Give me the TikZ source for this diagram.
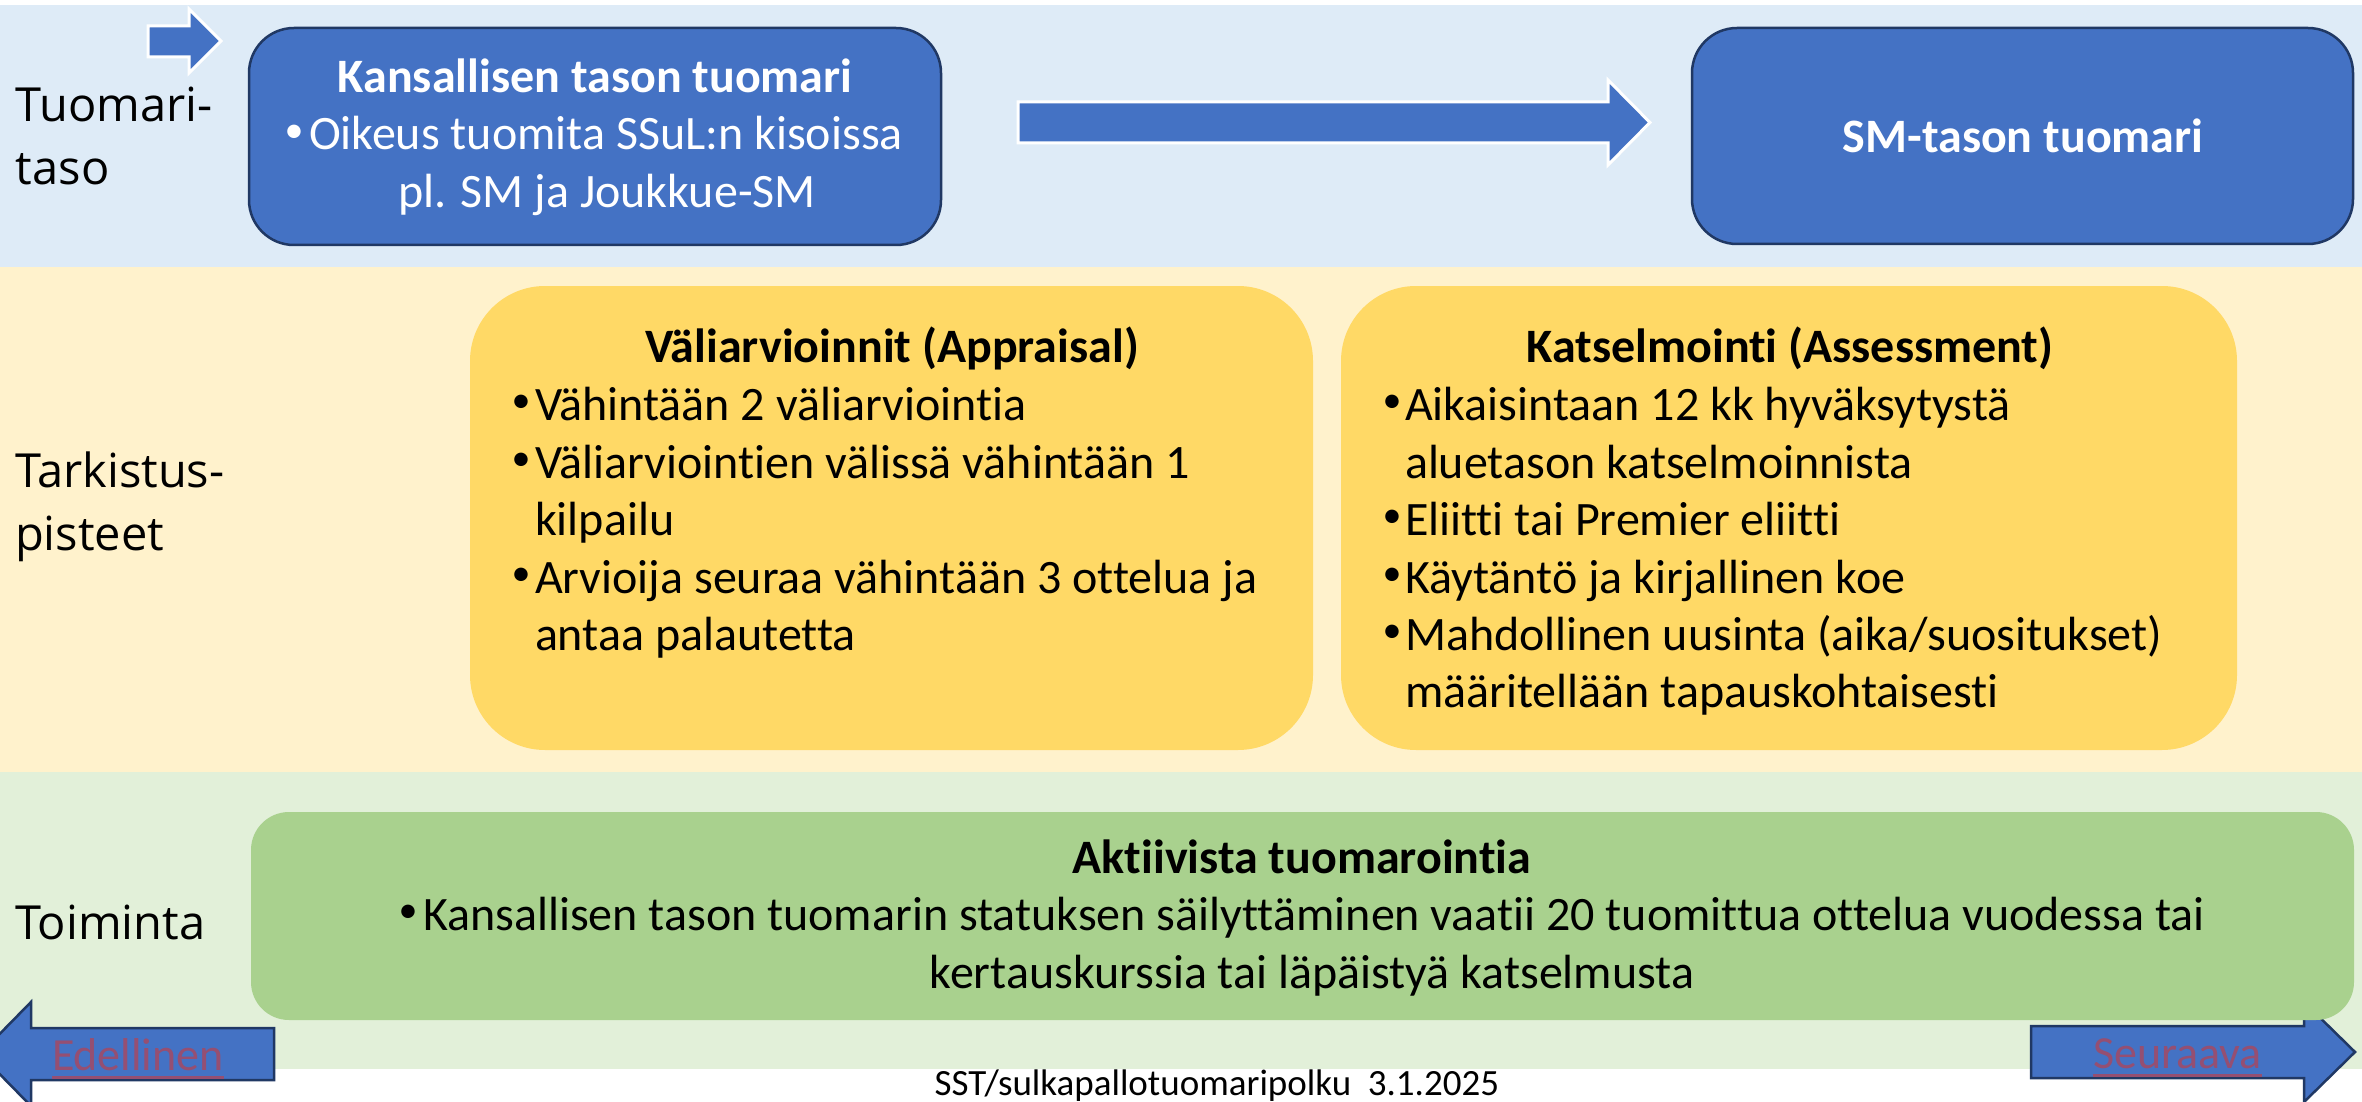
\documentclass[tikz,border=0pt]{standalone}
\usepackage{fontspec}
\setmainfont{Carlito}[Ligatures={NoCommon}]
\newfontfamily\segoe{Open Sans}
\definecolor{bandblue}{HTML}{DEEBF7}
\definecolor{bandyellow}{HTML}{FFF2CC}
\definecolor{bandgreen}{HTML}{E2F0D9}
\definecolor{boxblue}{HTML}{4472C4}
\definecolor{boxline}{HTML}{203864}
\definecolor{boxyellow}{HTML}{FFD966}
\definecolor{boxgreen}{HTML}{A9D18E}
\definecolor{linkcol}{HTML}{954F72}
\begin{document}
\begin{tikzpicture}[x=1pt,y=-1pt,
  txt/.style={inner sep=0pt, outer sep=0pt, font=\fontsize{48}{58}\selectfont},
  bodyw/.style={txt, anchor=base west},
  bodyc/.style={txt, anchor=base},
  bul/.style={inner sep=0pt, outer sep=0pt, anchor=center, font=\fontsize{38}{40}\selectfont},
  ttl/.style={inner sep=0pt, outer sep=0pt, anchor=base, font=\fontsize{48}{58}\selectfont\bfseries},
  wtxt/.style={text=white},
  side/.style={inner sep=0pt, outer sep=0pt, anchor=base west, font=\segoe\fontsize{47}{60}\selectfont},
  navtxt/.style={inner sep=0pt, outer sep=0pt, anchor=base west, text=linkcol, font=\fontsize{46}{56}\selectfont},
  bluebox/.style={draw=boxline, line width=2.5pt, fill=boxblue, rounded corners=45pt, inner sep=0pt},
  yelbox/.style={fill=boxyellow, rounded corners=75pt, inner sep=0pt},
  grnbox/.style={fill=boxgreen, rounded corners=38pt, inner sep=0pt},
  whitearrow/.style={fill=boxblue, draw=white, line width=3pt, line join=miter},
  navarrow/.style={fill=boxblue, draw=boxline, line width=2.5pt, line join=miter},
]
\useasboundingbox (0,0) rectangle (2362,1102);
\clip (0,0) rectangle (2362,1102);
\fill[white] (0,0) rectangle (2362,1102);
% bands
\fill[bandblue] (0,5) rectangle (2362,267);
\fill[bandyellow] (0,267) rectangle (2362,772);
\fill[bandgreen] (0,772) rectangle (2362,1069);
% navigation arrows (under green box)
\draw[navarrow] (274,1028) -- (31,1028) -- (31,1002) -- (-20,1054) -- (31,1106) -- (31,1080) -- (274,1080) -- cycle;
\draw[navarrow] (2031,1026) -- (2304,1026) -- (2304,1002) -- (2355,1052) -- (2304,1102) -- (2304,1078) -- (2031,1078) -- cycle;
% boxes
\node[bluebox, minimum width=692pt, minimum height=217pt] (kans) at (595,136.5) {};
\node[bluebox, minimum width=661pt, minimum height=216pt] (smt) at (2022.5,136) {};
\node[yelbox, minimum width=843pt, minimum height=464pt] (vali) at (891.5,518) {};
\node[yelbox, minimum width=896pt, minimum height=464pt] (kats) at (1789,518) {};
\node[grnbox, minimum width=2103pt, minimum height=208pt] (akt) at (1302.5,916) {};
% top arrows
\draw[whitearrow] (148,26) -- (189,26) -- (189,9) -- (221,41) -- (189,73) -- (189,57) -- (148,57) -- cycle;
\draw[whitearrow] (1018,102) -- (1608,102) -- (1608,80) -- (1650,122.5) -- (1608,165) -- (1608,143) -- (1018,143) -- cycle;
% side labels
\node[side] (s1) at (16,122) {Tuomari-};
\node[side] (s2) at (16,185) {taso};
\node[side] (s3) at (15,487) {Tarkistus-};
\node[side] (s4) at (15,550) {pisteet};
\node[side] (s5) at (15,939) {Toiminta};
% blue box 1 text
\node[ttl, wtxt] (k0) at (595,93) {Kansallisen tason tuomari};
\node[bul, wtxt] (kb) at (294,134) {•};
\node[bodyw, wtxt] (k1) at (309,150) {Oikeus tuomita SSuL:n kisoissa};
\node[bodyc, wtxt] (k2) at (607,208) {pl. SM ja Joukkue-SM};
% blue box 2 text
\node[ttl, wtxt] (m0) at (2023,153) {SM-tason tuomari};
% yellow box 1
\node[ttl] (v0) at (892,362) {Väliarvioinnit (Appraisal)};
\node[bul] (vb1) at (521,404) {•};
\node[bodyw] (v1) at (535,420) {Vähintään 2 väliarviointia};
\node[bul] (vb2) at (521,462) {•};
\node[bodyw] (v2) at (535,478) {Väliarviointien välissä vähintään 1};
\node[bodyw] (v3) at (535,535) {kilpailu};
\node[bul] (vb4) at (521,577) {•};
\node[bodyw] (v4) at (535,593) {Arvioija seuraa vähintään 3 ottelua ja};
\node[bodyw] (v5) at (535,650) {antaa palautetta};
% yellow box 2
\node[ttl] (a0) at (1790,362) {Katselmointi (Assessment)};
\node[bul] (ab1) at (1392,404) {•};
\node[bodyw] (a1) at (1405,420) {Aikaisintaan 12 kk hyväksytystä};
\node[bodyw] (a2) at (1405,478) {aluetason katselmoinnista};
\node[bul] (ab3) at (1392,519) {•};
\node[bodyw] (a3) at (1405,535) {Eliitti tai Premier eliitti};
\node[bul] (ab4) at (1392,577) {•};
\node[bodyw] (a4) at (1405,593) {Käytäntö ja kirjallinen koe};
\node[bul] (ab5) at (1392,634) {•};
\node[bodyw] (a5) at (1405,650) {Mahdollinen uusinta (aika/suositukset)};
\node[bodyw] (a6) at (1405,707) {määritellään tapauskohtaisesti};
% green box
\node[ttl] (g0) at (1302,873) {Aktiivista tuomarointia};
\node[bul] (gb1) at (408,914) {•};
\node[bodyw] (g1) at (423,930) {Kansallisen tason tuomarin statuksen säilyttäminen vaatii 20 tuomittua ottelua vuodessa tai};
\node[bodyc] (g2) at (1312,988) {kertauskurssia tai läpäistyä katselmusta};
% navigation texts
\node[navtxt] (ed) at (52,1070) {Edellinen};
\node[navtxt] (se) at (2093,1068) {Seuraava};
\draw[linkcol, line width=3pt] ([yshift=-7pt]ed.base west) -- ([yshift=-7pt]ed.base east);
\draw[linkcol, line width=3pt] ([yshift=-7pt]se.base west) -- ([yshift=-7pt]se.base east);
% footer
\node[inner sep=0pt, anchor=base, font=\fontsize{37}{44}\selectfont] (foot) at (1217,1095) {SST/sulkapallotuomaripolku\ \ 3.1.2025};
\end{tikzpicture}
\end{document}
